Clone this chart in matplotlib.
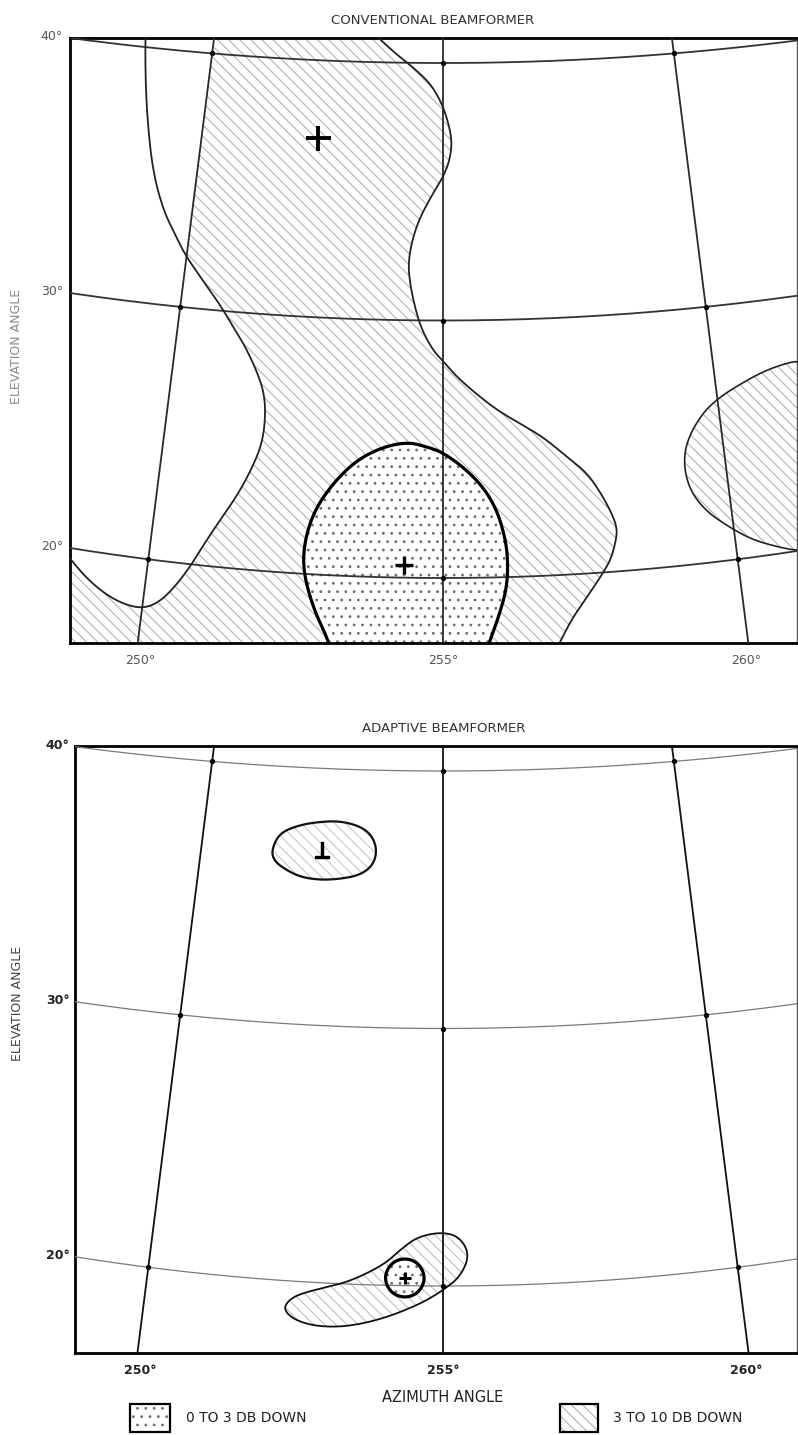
import numpy as np
import matplotlib
matplotlib.use("Agg")
import matplotlib.pyplot as plt
from matplotlib.patches import Polygon, Rectangle

# ---------------- data (azimuth / elevation in degrees) ----------------
AZIMUTH_TICKS = [250, 255, 260]
ELEVATION_TICKS = [20, 30, 40]

# conventional beamformer: 3-10 dB boundary, left branch (from top edge to left edge)
conv_left_az = [248.50, 248.52, 248.67, 248.84, 249.10, 249.42, 249.75, 249.97, 250.28, 250.72,
                251.01, 251.28, 251.56, 251.73, 251.78, 251.75, 251.60, 251.40, 251.12, 250.90,
                250.73, 250.52, 250.28, 250.01, 249.66, 249.30, 248.97, 248.73, 248.53]
conv_left_el = [40.85, 40.36, 38.72, 37.17, 35.24, 33.73, 32.72, 32.05, 31.32, 30.30,
                29.49, 28.74, 27.73, 26.86, 25.89, 24.90, 23.90, 22.88, 21.76, 20.81,
                19.98, 19.14, 18.40, 18.04, 18.13, 18.49, 19.02, 19.53, 19.90]
# 3-10 dB boundary, right branch (top edge to bottom edge)
conv_right_az = [253.39, 253.57, 253.84, 254.07, 254.35, 254.72, 254.94, 255.08, 255.19, 255.14,
                 255.00, 254.80, 254.54, 254.39, 254.32, 254.36, 254.46, 254.60, 254.81, 254.98,
                 255.26, 255.68, 256.04, 256.52, 256.87, 257.22, 257.56, 257.81, 257.96, 258.01,
                 257.96, 257.86, 257.67, 257.42, 257.17, 256.93, 256.79]
conv_right_el = [41.32, 40.97, 40.55, 40.21, 39.83, 39.22, 38.56, 37.90, 37.01, 36.23,
                 35.57, 34.95, 34.01, 33.12, 32.22, 31.45, 30.52, 29.63, 28.85, 28.47,
                 27.80, 27.02, 26.42, 25.80, 25.27, 24.57, 23.90, 22.93, 22.13, 21.61,
                 21.11, 20.47, 19.84, 19.09, 18.35, 17.41, 16.72]
# 3-10 dB lobe at the right edge
conv_far_az = [261.63, 261.18, 260.69, 259.89, 259.47, 259.27, 259.30, 259.54, 259.92, 260.29,
               260.74, 261.09, 261.66, 262.35, 262.58, 262.20]
conv_far_el = [27.47, 27.37, 27.07, 26.27, 25.26, 24.24, 23.05, 22.08, 21.31, 20.69,
               20.23, 19.96, 20.04, 21.94, 24.62, 26.74]
# 0-3 dB main lobe
conv_main_az = [253.14, 253.10, 252.82, 252.62, 252.62, 252.76, 253.06, 253.46, 253.92, 254.37,
                254.71, 254.98, 255.36, 255.71, 255.94, 256.07, 256.11, 256.08, 255.95, 255.78, 255.72]
conv_main_el = [17.10, 17.49, 18.74, 20.15, 21.32, 22.50, 23.59, 24.52, 25.06, 25.27,
                25.09, 24.89, 24.31, 23.52, 22.62, 21.56, 20.66, 19.62, 18.61, 17.57, 17.19]
conv_targets_az = [252.40, 254.33]
conv_targets_el = [36.97, 20.49]

# adaptive beamformer
adapt_upper_az = [251.45, 251.58, 251.99, 252.41, 252.83, 253.25, 253.51, 253.63, 253.56, 253.30,
                  252.89, 252.48, 252.07, 251.71, 251.51]
adapt_upper_el = [36.72, 37.40, 37.76, 37.92, 37.98, 37.81, 37.47, 36.90, 36.31, 35.91,
                  35.73, 35.66, 35.74, 36.05, 36.34]
adapt_lower_az = [254.98, 255.29, 255.46, 255.29, 255.00, 254.73, 254.45, 254.11, 253.70, 253.28,
                  252.86, 252.52, 252.33, 252.39, 252.58, 253.03, 253.37, 253.75, 254.04, 254.26, 254.55]
adapt_lower_el = [22.10, 21.90, 21.20, 20.35, 19.84, 19.45, 19.14, 18.81, 18.51, 18.32,
                  18.31, 18.50, 18.86, 19.22, 19.52, 19.85, 20.08, 20.50, 20.91, 21.38, 21.90]
adapt_main_az = [254.69, 254.64, 254.52, 254.35, 254.18, 254.06, 254.01, 254.06, 254.18, 254.35, 254.52, 254.64]
adapt_main_el = [20.30, 20.68, 20.96, 21.06, 20.96, 20.68, 20.30, 19.92, 19.64, 19.54, 19.64, 19.92]
adapt_targets_az = [252.49, 254.35]
adapt_targets_el = [36.83, 20.30]

# ---------------- projection of the curved az/el grid ----------------
EL_REF, Y_REF, PX_PER_EL = 20.0, 578.0, 25.75
POLE, AZ_SCALE, AZ_C = 1800.0, 40.35, 255.0
SAG20, SAG_SLOPE, HALF = 30.0, 0.25, 373.0


def project(az, el):
    az = np.asarray(az, float)
    el = np.asarray(el, float)
    yc = Y_REF - PX_PER_EL * (el - EL_REF)
    w = (yc + POLE) / AZ_SCALE
    dx = (az - AZ_C) * w
    sag = (SAG20 - SAG_SLOPE * (el - EL_REF)) * (dx / HALF) ** 2
    return dx, -(yc - sag)


def chaikin(P, iters, closed):
    P = np.asarray(P, float)
    for _ in range(iters):
        if closed:
            Q, R = P, np.roll(P, -1, axis=0)
        else:
            Q, R = P[:-1], P[1:]
        new = np.empty((2 * len(Q), 2))
        new[0::2] = 0.75 * Q + 0.25 * R
        new[1::2] = 0.25 * Q + 0.75 * R
        if not closed:
            new = np.vstack([P[:1], new, P[-1:]])
        P = new
    return P


def densify(P, n, closed):
    P = np.asarray(P, float)
    if closed:
        P = np.vstack([P, P[:1]])
    out = []
    t = np.linspace(0, 1, n, endpoint=False)[:, None]
    for a, b in zip(P[:-1], P[1:]):
        out.append(a + (b - a) * t)
    out.append(P[-1:])
    return np.vstack(out)


def to_xy(P, closed=False, n=4):
    D = densify(P, n, closed)
    x, y = project(D[:, 0], D[:, 1])
    return np.column_stack([x, y])


def smooth(az, el, closed, it=3):
    return chaikin(np.column_stack([az, el]), it, closed)


plt.rcParams['hatch.linewidth'] = 0.8
W, H = 798, 1435
fig = plt.figure(figsize=(W / 100, H / 100), dpi=100)
fig.patch.set_facecolor('white')

TXT = dict(family='DejaVu Sans')


def make_axes(left, top, right, bottom, xl, right_spine=True):
    ax = fig.add_axes([left / W, 1 - bottom / H, (right - left) / W, (bottom - top) / H])
    ax.set_xlim(xl, 354)
    ax.set_ylim(-(bottom - top) - 38, -38)
    ax.set_xticks([])
    ax.set_yticks([])
    for s in ['left', 'top', 'bottom']:
        ax.spines[s].set_linewidth(2.0)
        ax.spines[s].set_color('black')
    ax.spines['right'].set_linewidth(1.0)
    ax.spines['right'].set_color('#555555')
    ax.spines['right'].set_visible(right_spine)
    ax.set_facecolor('white')
    return ax


def draw_grid(ax, az_color, az_lw, arc_color, arc_lw):
    el_line = np.linspace(13, 45, 200)
    az_line = np.linspace(240, 270, 300)
    for az in AZIMUTH_TICKS:
        x, y = project(np.full_like(el_line, az), el_line)
        ax.plot(x, y, color=az_color, lw=az_lw, zorder=4)
    for el in ELEVATION_TICKS:
        x, y = project(az_line, np.full_like(az_line, el))
        ax.plot(x, y, color=arc_color, lw=arc_lw, zorder=4)
    for az in AZIMUTH_TICKS:
        for el in ELEVATION_TICKS:
            x, y = project(az, el)
            ax.plot(x, y, 'o', color='black', ms=2.8, zorder=6)


def draw_labels(ax, color, xl, off_x, weight='normal'):
    for az in AZIMUTH_TICKS:
        x, _ = project(az, 17.45)
        ax.annotate(f"{az}°", xy=(float(x), 0), xycoords=('data', 'axes fraction'),
                    xytext=(0, -12.5), textcoords='offset points', ha='center', va='center',
                    fontsize=9, color=color, fontweight=weight, annotation_clip=False, **TXT)
    for el in ELEVATION_TICKS:
        yc = Y_REF - PX_PER_EL * (el - EL_REF)
        az_e = AZ_C + xl / ((yc + POLE) / AZ_SCALE)
        _, y = project(az_e, el)
        ax.annotate(f"{el}°", xy=(0, float(y)), xycoords=('axes fraction', 'data'),
                    xytext=(off_x, 1), textcoords='offset points', ha='right', va='center',
                    fontsize=9, color=color, fontweight=weight, annotation_clip=False, **TXT)


HATCH_LINES = '\\\\\\'
HATCH_DOTS = '..'
LINE_HATCH_COLOR = '#b4b4b4'
DOT_COLOR = '#6e6e6e'

# ======================= top panel =======================
XL1 = -373
ax1 = make_axes(70, 38, 797, 643, XL1)
ax1.add_patch(Rectangle((0, 0), 1, 1, transform=ax1.transAxes, facecolor='white',
                        edgecolor=LINE_HATCH_COLOR, hatch=HATCH_LINES, lw=0, zorder=0.5))

# unshaded region on the left (between frame, az-250 line at top and the contour)
left_curve_s = smooth(conv_left_az[7:], conv_left_el[7:], closed=False)
white_left = np.vstack([[[250.0, 42.5]], left_curve_s, [[245.0, 19.9], [245.0, 42.5]]])
ax1.add_patch(Polygon(to_xy(white_left, closed=True), closed=True, facecolor='white',
                      edgecolor='none', lw=0, zorder=1))
# unshaded region on the right
right_curve_s = smooth(conv_right_az, conv_right_el, closed=False)
white_right = np.vstack([right_curve_s, [[265.0, 15.0], [265.0, 42.5]]])
ax1.add_patch(Polygon(to_xy(white_right, closed=True), closed=True, facecolor='white',
                      edgecolor='none', lw=0, zorder=1))
# far lobe (hatched)
far_s = smooth(conv_far_az, conv_far_el, closed=True)
far_xy = to_xy(far_s, closed=True)
ax1.add_patch(Polygon(far_xy, closed=True, facecolor='white', edgecolor=LINE_HATCH_COLOR,
                      hatch=HATCH_LINES, lw=0, zorder=1.5))
ax1.add_patch(Polygon(far_xy, closed=True, fill=False, edgecolor='#222222', lw=1.2, zorder=5))
# main lobe (dotted)
main_s = smooth(conv_main_az, conv_main_el, closed=True)
main_xy = to_xy(main_s, closed=True)
ax1.add_patch(Polygon(main_xy, closed=True, facecolor='white', edgecolor=DOT_COLOR,
                      hatch=HATCH_DOTS, lw=0, zorder=1.6))
draw_grid(ax1, '#2a2a2a', 1.3, '#333333', 1.3)
ax1.add_patch(Polygon(main_xy, closed=True, fill=False, edgecolor='black', lw=2.3, zorder=5))
# contour lines
lc = to_xy(smooth(conv_left_az, conv_left_el, closed=False))
ax1.plot(lc[:, 0], lc[:, 1], color='#222222', lw=1.3, zorder=5)
rc = to_xy(right_curve_s)
ax1.plot(rc[:, 0], rc[:, 1], color='#222222', lw=1.3, zorder=5)
tx, ty = project(conv_targets_az, conv_targets_el)
ax1.plot(tx[0], ty[0], marker='+', ms=18, mew=2.8, color='black', zorder=7)
ax1.plot(tx[1], ty[1], marker='+', ms=13, mew=2.4, color='black', zorder=7)
draw_labels(ax1, '#555555', XL1, -5)

# ======================= bottom panel =======================
XL2 = -368
ax2 = make_axes(75, 746, 797, 1353, XL2)
up_xy = to_xy(smooth(adapt_upper_az, adapt_upper_el, closed=True), closed=True)
ax2.add_patch(Polygon(up_xy, closed=True, facecolor='white', edgecolor='#c8c8c8',
                      hatch=HATCH_LINES, lw=0, zorder=1.5))
low_xy = to_xy(smooth(adapt_lower_az, adapt_lower_el, closed=True), closed=True)
ax2.add_patch(Polygon(low_xy, closed=True, facecolor='white', edgecolor='#c0c0c0',
                      hatch=HATCH_LINES, lw=0, zorder=1.5))
am_xy = to_xy(smooth(adapt_main_az, adapt_main_el, closed=True), closed=True)
ax2.add_patch(Polygon(am_xy, closed=True, facecolor='white', edgecolor=DOT_COLOR,
                      hatch=HATCH_DOTS, lw=0, zorder=1.6))
draw_grid(ax2, '#111111', 1.3, '#7a7a7a', 0.9)
ax2.add_patch(Polygon(up_xy, closed=True, fill=False, edgecolor='#111111', lw=1.6, zorder=5))
ax2.add_patch(Polygon(low_xy, closed=True, fill=False, edgecolor='#111111', lw=1.3, zorder=5))
ax2.add_patch(Polygon(am_xy, closed=True, fill=False, edgecolor='black', lw=2.3, zorder=5))
bx, by = project(adapt_targets_az, adapt_targets_el)
ax2.plot(bx[0], by[0], marker=r'$\perp$', ms=11, color='black', zorder=7)
ax2.plot(bx[1], by[1], marker='+', ms=9, mew=2.2, color='black', zorder=7)
draw_labels(ax2, '#222222', XL2, -4, weight='bold')

# ======================= texts =======================
fig.text(433 / W, 1 - 20 / H, 'CONVENTIONAL BEAMFORMER', ha='center', va='center',
         fontsize=9.5, color='#333333', **TXT)
fig.text(444 / W, 1 - 728 / H, 'ADAPTIVE BEAMFORMER', ha='center', va='center',
         fontsize=9.5, color='#333333', **TXT)
fig.text(17 / W, 1 - 346 / H, 'ELEVATION ANGLE', rotation=90, ha='center', va='center',
         fontsize=9, color='#8a8a8a', **TXT)
fig.text(18 / W, 1 - 1003 / H, 'ELEVATION ANGLE', rotation=90, ha='center', va='center',
         fontsize=9, color='#444444', **TXT)
fig.text(443 / W, 1 - 1397 / H, 'AZIMUTH ANGLE', ha='center', va='center',
         fontsize=10.5, color='#222222', **TXT)

# legend
LEGEND_LABELS = ['0 TO 3 DB DOWN', '3 TO 10 DB DOWN']
legend_hatch = [(HATCH_DOTS, DOT_COLOR), (HATCH_LINES, LINE_HATCH_COLOR)]
legend_boxes = [(130, 1404, 40, 28), (560, 1404, 38, 28)]
legend_text_x = [186, 613]
for (bx0, by0, bw, bh), (hp, hc), lab, tx0 in zip(legend_boxes, legend_hatch, LEGEND_LABELS, legend_text_x):
    fig.add_artist(Rectangle((bx0 / W, 1 - (by0 + bh) / H), bw / W, bh / H, transform=fig.transFigure,
                             facecolor='white', edgecolor=hc, hatch=hp, lw=0))
    fig.add_artist(Rectangle((bx0 / W, 1 - (by0 + bh) / H), bw / W, bh / H, transform=fig.transFigure,
                             fill=False, edgecolor='black', lw=1.6))
    fig.text(tx0 / W, 1 - (by0 + bh / 2) / H, lab, ha='left', va='center', fontsize=10,
             color='#222222', **TXT)

fig.savefig('out.png', dpi=100, facecolor='white')
